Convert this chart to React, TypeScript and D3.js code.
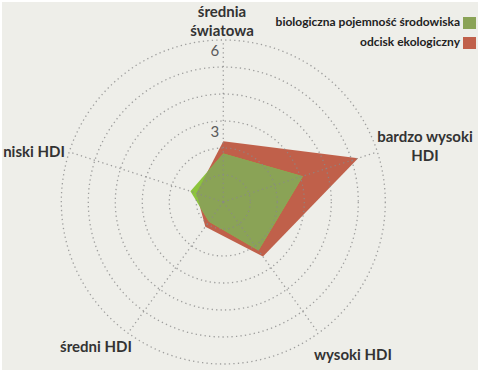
import React from "react";
import * as d3 from "d3";

const axes = ["średnia światowa", "bardzo wysoki HDI", "wysoki HDI", "średni HDI", "niski HDI"];
const footprint = [2.25, 5.25, 2.5, 1.13, 1.05]; // odcisk ekologiczny
const biocapacity = [1.8, 3.1, 2.22, 0.9, 1.28]; // biologiczna pojemność środowiska
const ringValues = [1, 2, 3, 4, 5, 6];
const tickLabels = [3, 6];
const seriesNames = ["biologiczna pojemność środowiska", "odcisk ekologiczny"];

const W = 480, H = 373;
const cx = 223.3, cy = 202, R = 162;
const RED = "#c0604a", OLIVE = "#8aa356", LIME = "#8cc43c";
const FONT = "Lato, 'Open Sans', sans-serif";

export default function App() {
  const r = d3.scaleLinear().domain([0, 6]).range([0, R]);
  const angle = d3.scaleLinear().domain([0, axes.length]).range([0, 2 * Math.PI]);
  const pt = (i: number, v: number): [number, number] => {
    const a = angle(i) - Math.PI / 2;
    return [cx + r(v) * Math.cos(a), cy + r(v) * Math.sin(a)];
  };
  const line = d3.line<number>().x((v, i) => pt(i, v)[0]).y((v, i) => pt(i, v)[1]).curve(d3.curveLinearClosed);
  const redPath = line(footprint) || "";
  const greenPath = line(biocapacity) || "";

  const labelPos: { lines: string[]; x: number; y: number; anchor: string }[] = [
    { lines: ["średnia", "światowa"], x: 222, y: 17, anchor: "middle" },
    { lines: ["bardzo wysoki", "HDI"], x: 425, y: 142, anchor: "middle" },
    { lines: ["wysoki HDI"], x: 353, y: 360, anchor: "middle" },
    { lines: ["średni HDI"], x: 96, y: 352, anchor: "middle" },
    { lines: ["niski HDI"], x: 34, y: 157, anchor: "middle" },
  ];

  return (
    <svg width={W} height={H} style={{ position: "absolute", left: 0, top: 0 }}>
      <defs>
        <clipPath id="redClip">
          <path d={redPath} />
        </clipPath>
      </defs>
      <rect x={0} y={0} width={W} height={H} fill="#ffffff" />
      <rect x={2} y={2} width={W - 4} height={H - 5} fill="#eeeee9" />
      <path d={redPath} fill={RED} />
      <path d={greenPath} fill={LIME} />
      <path d={greenPath} fill={OLIVE} clipPath="url(#redClip)" />
      {ringValues.map((v) => (
        <circle key={v} cx={cx} cy={cy} r={r(v)} fill="none" stroke="#8a8a8a" strokeWidth={1.3}
          strokeDasharray="1.3 3.2" opacity={0.8} />
      ))}
      {axes.map((a, i) => {
        const [x, y] = pt(i, 6);
        return <line key={a} x1={cx} y1={cy} x2={x} y2={y} stroke="#8a8a8a" strokeWidth={1.3}
          strokeDasharray="1.3 3.2" opacity={0.8} />;
      })}
      {tickLabels.map((t) => (
        <text key={t} x={cx - 4} y={cy - r(t) + 15.5} textAnchor="end" fontFamily={FONT} fontSize={15}
          fill="#5a5a5a">{t}</text>
      ))}
      {labelPos.map((l, i) => (
        <text key={i} textAnchor={l.anchor as any} fontFamily={FONT} fontWeight={700} fontSize={15} fill="#333">
          {l.lines.map((s, j) => (
            <tspan key={j} x={l.x} y={l.y + j * 19}>{s}</tspan>
          ))}
        </text>
      ))}
      {seriesNames.map((s, i) => (
        <g key={s}>
          <text x={460} y={26 + i * 20} textAnchor="end" fontFamily={FONT} fontWeight={700} fontSize={12}
            fill="#222">{s}</text>
          <rect x={463} y={17 + i * 20} width={13} height={12} fill={i === 0 ? OLIVE : RED} />
        </g>
      ))}
    </svg>
  );
}
